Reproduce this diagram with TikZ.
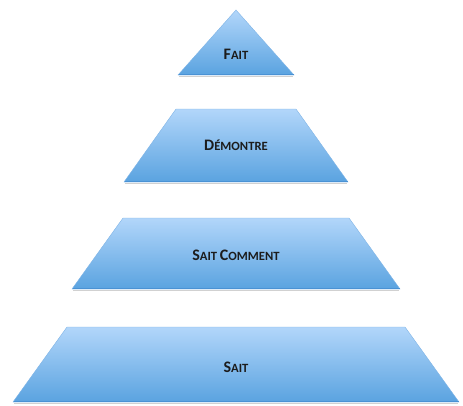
\documentclass[tikz,border=0pt]{standalone}
\usepackage{fontspec}
\setmainfont{Carlito}
\definecolor{tiertop}{HTML}{B2D6FA}
\definecolor{tierbot}{HTML}{5AA3E0}
\definecolor{tieredge}{HTML}{7FB4E6}
\definecolor{tierbase}{HTML}{4A92D4}
\definecolor{labelink}{HTML}{1C1C1C}
\newcommand\initcap[1]{{\fontsize{16}{16}\selectfont #1}}
\begin{document}
\begin{tikzpicture}[x=1pt,y=-1pt,
  tier/.style={top color=tiertop,bottom color=tierbot,draw=tieredge,line width=0.4pt,line join=miter},
  shadowline/.style={draw=black,opacity=0.18,line width=1.6pt},
  baseline/.style={draw=tierbase,line width=0.8pt},
  tierlabel/.style={font=\fontsize{12.6}{13}\selectfont\bfseries,text=labelink,inner sep=0pt}]
\useasboundingbox (0,0) rectangle (463,405);
% apex triangle
\draw[shadowline] (179,76.6) -- (293,76.6);
\shade[tier] (236,10) -- (294,75) -- (178,75) -- cycle;
\draw[baseline] (178.5,74.8) -- (293.5,74.8);
% second tier
\draw[shadowline] (125,183.6) -- (347,183.6);
\shade[tier] (176,109) -- (296,109) -- (348,182) -- (124,182) -- cycle;
\draw[baseline] (124.5,181.8) -- (347.5,181.8);
% third tier
\draw[shadowline] (73,290.6) -- (399,290.6);
\shade[tier] (123,218) -- (349,218) -- (400,289) -- (72,289) -- cycle;
\draw[baseline] (72.5,288.8) -- (399.5,288.8);
% base tier
\draw[shadowline] (14,403.6) -- (458,403.6);
\shade[tier] (67,327) -- (405,327) -- (459,402) -- (13,402) -- cycle;
\draw[baseline] (13.5,401.8) -- (458.5,401.8);
% labels
\node[tierlabel] (fait) at (236,54) {\initcap{F}AIT};
\node[tierlabel] (demontre) at (236,145) {\initcap{D}ÉMONTRE};
\node[tierlabel] (saitcomment) at (236,255) {\initcap{S}AIT \initcap{C}OMMENT};
\node[tierlabel] (sait) at (236,367) {\initcap{S}AIT};
\end{tikzpicture}
\end{document}
